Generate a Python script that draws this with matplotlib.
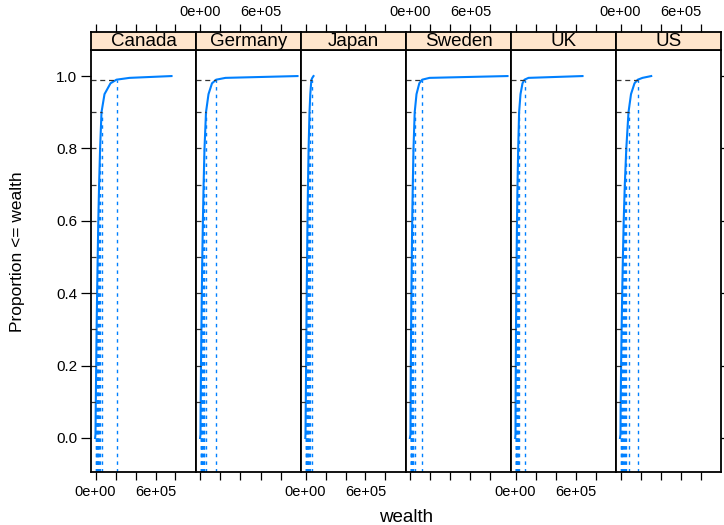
import numpy as np
import matplotlib.pyplot as plt

plt.rcParams['font.family'] = ['Liberation Sans', 'DejaVu Sans']

# ecdf of wealth per country
countries = ['Canada', 'Germany', 'Japan', 'Sweden', 'UK', 'US']
probs = [0, 0.01, 0.1, 0.2, 0.3, 0.4, 0.5, 0.6, 0.7, 0.8, 0.9, 0.95, 0.98, 0.99, 0.995, 1.0]
wealth = {
    'Canada':  [-4e3, 0, 3e3, 7e3, 11e3, 16e3, 22e3, 28e3, 36e3, 46e3, 60e3, 90e3, 150e3, 210e3, 340e3, 760e3],
    'Germany': [-4e3, 0, 2e3, 5e3, 9e3, 13e3, 18e3, 24e3, 31e3, 40e3, 55e3, 80e3, 115e3, 157e3, 250e3, 970e3],
    'Japan':   [-2e3, 0, 3e3, 6e3, 9e3, 12e3, 16e3, 20e3, 25e3, 31e3, 40e3, 48e3, 56e3, 60e3, 68e3, 80e3],
    'Sweden':  [-6e3, 0, 1e3, 3e3, 6e3, 9e3, 13e3, 17e3, 23e3, 30e3, 42e3, 60e3, 88e3, 117e3, 190e3, 970e3],
    'UK':      [-3e3, 0, 1e3, 3e3, 5e3, 8e3, 11e3, 15e3, 20e3, 27e3, 36e3, 50e3, 70e3, 90e3, 130e3, 670e3],
    'US':      [-5e3, 0, 2e3, 6e3, 11e3, 17e3, 24e3, 32e3, 43e3, 58e3, 80e3, 105e3, 140e3, 173e3, 220e3, 307e3],
}
ref_probs = [0.1, 0.2, 0.3, 0.4, 0.5, 0.6, 0.7, 0.8, 0.9, 0.99]

xticks = [0, 2e5, 4e5, 6e5, 8e5]
xticklabels = ['0e+00', '', '', '6e+05', '']
yticks = [0.0, 0.2, 0.4, 0.6, 0.8, 1.0]

blue = '#0080ff'
xlim = (-4.5e4, 1.005e6)
ylim = (-0.094, 1.072)

fig = plt.figure(figsize=(7.24, 5.25), dpi=100)
W, H = 724, 525
left, pw, top, bot, sh = 91, 105, 50, 472, 18

for i, c in enumerate(countries):
    x0 = left + i * pw
    ax = fig.add_axes([x0 / W, 1 - bot / H, pw / W, (bot - top) / H])
    sax = fig.add_axes([x0 / W, 1 - top / H, pw / W, sh / H])

    q = np.array(wealth[c])
    p = np.array(probs)
    ax.plot(q, p, color=blue, lw=1.5, solid_joinstyle='round')
    for rp in ref_probs:
        qv = np.interp(rp, p, q)
        ax.plot([qv, qv], [ylim[0], rp], color=blue, lw=1.0, ls=(0, (2.5, 3)))
        ax.plot([xlim[0], qv], [rp, rp], color='#333333', lw=0.9, ls=(0, (4, 3)))

    ax.set_xlim(xlim)
    ax.set_ylim(ylim)
    ax.set_xticks(xticks)
    ax.tick_params(axis='x', direction='out', length=6, width=0.9, labelsize=10.5, pad=3)
    ax.tick_params(axis='y', direction='out', length=7, width=0.9, labelsize=11, pad=3)
    if i % 2 == 0:
        ax.set_xticklabels(xticklabels)
    else:
        ax.set_xticklabels([''] * len(xticks))
    if i == 0:
        ax.set_yticks(yticks)
        ax.set_yticklabels(['%.1f' % v for v in yticks])
    elif i == len(countries) - 1:
        ax.set_yticks(yticks)
        ax.yaxis.tick_right()
        ax.set_yticklabels([])
    else:
        ax.set_yticks([])
    for s in ax.spines.values():
        s.set_linewidth(1.3)

    # strip on top, with the top tick marks above it
    sax.set_facecolor('#ffe5cc')
    sax.set_xlim(xlim)
    sax.set_yticks([])
    sax.set_xticks(xticks)
    sax.xaxis.tick_top()
    sax.tick_params(direction='out', length=6, width=0.9, labelsize=10.5, pad=3)
    if i % 2 == 1:
        sax.set_xticklabels(xticklabels)
    else:
        sax.set_xticklabels([''] * len(xticks))
    sax.text(0.5, 0.45, c, transform=sax.transAxes, ha='center', va='center', fontsize=13.5)
    for s in sax.spines.values():
        s.set_linewidth(1.3)

fig.text((left + 3 * pw) / W, 1 - 517 / H, 'wealth', ha='center', va='center', fontsize=13.5)
fig.text(18 / W, 1 - 252 / H, 'Proportion <= wealth', ha='center', va='center',
         rotation=90, fontsize=12.5)

plt.savefig('out.png', dpi=100)
